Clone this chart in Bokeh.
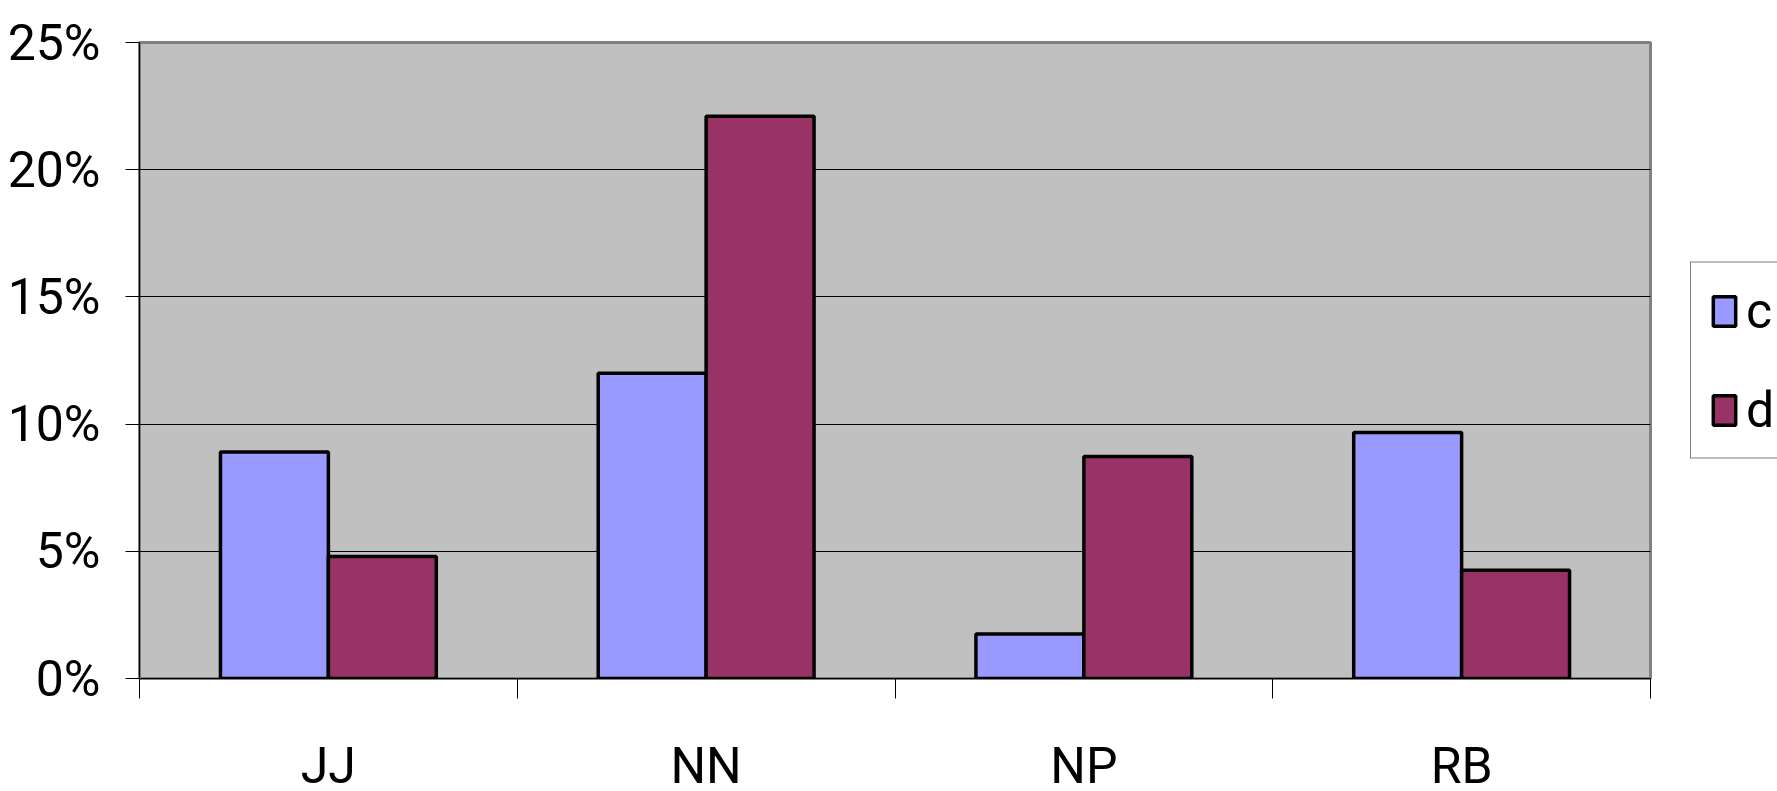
from bokeh.plotting import figure
from bokeh.models import (ColumnDataSource, FixedTicker, NumeralTickFormatter,
                          Legend, LegendItem, Range1d)
from bokeh.embed import file_html
from bokeh.resources import INLINE

# Categories and series values (fractions)
categories = ["JJ", "NN", "NP", "RB"]
series_names = ["c", "d"]
values_c = [0.089, 0.120, 0.0175, 0.0967]
values_d = [0.048, 0.221, 0.0873, 0.0426]
y_ticks = [0, 0.05, 0.10, 0.15, 0.20, 0.25]

colors = {"c": "#9999FF", "d": "#993366"}
FONT = "Roboto"
FONT_SIZE = "50px"

n = len(categories)
bar_w = 1 / 3.5          # gap width 150%
centers = [i + 0.5 for i in range(n)]

src_c = ColumnDataSource(dict(x=[c - bar_w / 2 for c in centers], top=values_c))
src_d = ColumnDataSource(dict(x=[c + bar_w / 2 for c in centers], top=values_d))

p = figure(frame_width=1511, frame_height=636, output_backend="svg", toolbar_location=None,
           x_range=Range1d(0, n), y_range=Range1d(0, 0.25),
           min_border_left=139, min_border_right=127,
           min_border_top=42, min_border_bottom=113)

p.background_fill_color = "#C0C0C0"
p.border_fill_color = "white"
p.outline_line_color = "#808080"
p.outline_line_width = 3

r_c = p.vbar(x="x", top="top", width=bar_w, source=src_c, fill_color=colors["c"],
             line_color="black", line_width=3.5)
r_d = p.vbar(x="x", top="top", width=bar_w, source=src_d, fill_color=colors["d"],
             line_color="black", line_width=3.5)

# y axis
p.yaxis.ticker = FixedTicker(ticks=y_ticks)
p.yaxis.formatter = NumeralTickFormatter(format="0%")
p.yaxis.major_label_text_font = FONT
p.yaxis.major_label_text_font_size = FONT_SIZE
p.yaxis.major_label_text_color = "black"
p.yaxis.major_tick_out = 14
p.yaxis.major_tick_in = 0
p.yaxis.minor_tick_out = 0
p.yaxis.minor_tick_in = 0
p.yaxis.major_label_standoff = 25
p.yaxis.axis_line_color = "black"
p.yaxis.major_tick_line_color = "black"

# x axis: labels at category centers, tick marks at category boundaries
p.xaxis.ticker = FixedTicker(ticks=centers, minor_ticks=list(range(n + 1)))
p.xaxis.major_label_overrides = {c: lab for c, lab in zip(centers, categories)}
p.xaxis.major_label_text_font = FONT
p.xaxis.major_label_text_font_size = FONT_SIZE
p.xaxis.major_label_text_color = "black"
p.xaxis.major_tick_out = 0
p.xaxis.major_tick_in = 0
p.xaxis.minor_tick_out = 20
p.xaxis.minor_tick_in = 0
p.xaxis.minor_tick_line_color = "black"
p.xaxis.major_label_standoff = 38
p.xaxis.axis_line_color = "black"

p.xgrid.grid_line_color = None
p.ygrid.ticker = FixedTicker(ticks=y_ticks)
p.ygrid.grid_line_color = "black"
p.ygrid.grid_line_width = 1

legend = Legend(items=[LegendItem(label="c", renderers=[r_c]),
                       LegendItem(label="d", renderers=[r_d])],
                location="left", orientation="vertical",
                glyph_width=28, glyph_height=37,
                label_text_font=FONT, label_text_font_size=FONT_SIZE,
                label_text_color="black",
                label_standoff=8, padding=19, spacing=41, margin=40,
                border_line_color="black", border_line_width=1,
                background_fill_color="white", background_fill_alpha=1)
p.add_layout(legend, "right")

html = file_html(p, INLINE)
# the legend box runs off the right edge of the page; keep the page itself from scrolling
html = html.replace("<head>", "<head><style>html, body {margin: 0; overflow: hidden;}</style>", 1)
open("out.html", "w").write(html)
